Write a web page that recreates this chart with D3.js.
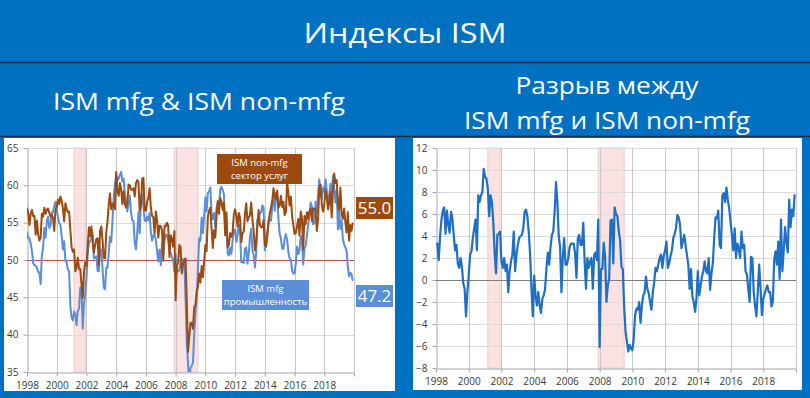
<!DOCTYPE html>
<html>
<head>
<meta charset="utf-8">
<title>Индексы ISM</title>
<script src="https://d3js.org/d3.v7.min.js"></script>
<style>
  body { margin: 0; background: #0070c0; }
  svg { display: block; }
  text { font-family: "Open Sans", "DejaVu Sans", sans-serif; }
</style>
</head>
<body>
<svg id="chart"></svg>
<script>
const W = 810, H = 398;

// monthly data, Jan 1998 .. Dec 2019
const startYear = 1998;

// ISM manufacturing PMI
const mfg = [
  53.8, 52.9, 52.9, 52.2, 51.2, 49.6, 49.3, 49.2, 49.0, 48.4, 48.3, 46.8,
  50.6, 51.7, 54.3, 53.0, 55.2, 55.8, 54.3, 54.6, 56.4, 56.4, 57.2, 57.8,
  56.7, 55.8, 54.9, 54.7, 53.2, 51.4, 52.5, 49.9, 49.7, 48.7, 48.5, 43.9,
  42.3, 41.9, 43.1, 42.7, 41.3, 43.2, 43.5, 46.3, 46.2, 40.8, 44.1, 45.3,
  47.5, 50.7, 52.4, 52.4, 53.1, 53.6, 50.2, 50.3, 50.5, 48.5, 48.5, 51.6,
  51.3, 48.8, 46.3, 46.1, 49.0, 49.0, 51.0, 53.1, 52.4, 55.2, 58.4, 60.1,
  61.4, 60.6, 60.9, 61.4, 61.8, 60.5, 60.9, 58.9, 57.8, 56.5, 57.6, 58.6,
  56.4, 55.3, 55.2, 52.3, 51.4, 53.6, 56.4, 53.6, 58.3, 58.8, 57.2, 55.3,
  55.2, 55.8, 55.3, 56.3, 53.7, 52.6, 53.3, 53.4, 52.7, 51.2, 49.8, 51.4,
  49.3, 52.3, 50.7, 52.6, 53.4, 53.3, 52.6, 51.2, 51.0, 50.4, 50.0, 48.4,
  50.7, 48.3, 48.6, 48.6, 49.6, 50.2, 50.0, 49.9, 44.8, 38.9, 36.2, 33.1,
  35.6, 35.8, 36.3, 40.1, 42.8, 44.8, 48.9, 52.9, 52.6, 55.7, 53.6, 55.9,
  58.4, 56.5, 59.0, 59.2, 59.7, 56.2, 55.5, 56.3, 54.4, 56.9, 57.6, 57.0,
  59.5, 59.8, 59.4, 58.8, 53.5, 55.3, 50.9, 50.6, 51.6, 50.8, 52.7, 53.9,
  54.1, 52.4, 53.4, 54.8, 53.5, 49.7, 49.8, 49.6, 51.5, 51.7, 49.5, 50.7,
  53.1, 54.2, 51.3, 50.7, 49.0, 50.9, 55.4, 55.7, 56.2, 56.4, 57.3, 57.0,
  51.3, 53.2, 53.7, 54.9, 55.4, 55.3, 57.1, 59.0, 56.6, 59.0, 58.7, 55.5,
  53.5, 52.9, 51.5, 51.5, 52.8, 53.5, 52.7, 51.1, 50.2, 50.1, 48.6, 48.2,
  48.2, 49.5, 51.8, 50.8, 51.3, 53.2, 52.6, 49.4, 51.5, 51.9, 53.2, 54.7,
  56.0, 57.7, 57.2, 54.8, 54.9, 57.8, 56.3, 58.8, 60.8, 58.7, 58.2, 59.7,
  59.1, 60.8, 59.3, 57.3, 58.7, 60.2, 58.1, 61.3, 59.8, 57.7, 59.3, 54.1,
  56.6, 54.2, 55.3, 52.8, 52.1, 51.7, 51.2, 49.1, 47.8, 48.3, 48.1, 47.2
];

// ISM non-manufacturing
const nonMfg = [
  57.0, 56.2, 54.7, 56.2, 56.7, 55.9, 55.9, 53.4, 55.3, 53.4, 52.6, 53.0,
  56.2, 55.8, 57.0, 56.2, 56.7, 56.9, 56.3, 55.8, 56.1, 55.6, 53.9, 56.7,
  57.1, 58.1, 57.5, 58.5, 57.9, 56.9, 55.2, 57.6, 56.8, 56.4, 56.5, 54.0,
  51.7, 51.1, 51.4, 48.5, 49.0, 50.3, 48.8, 48.8, 46.8, 44.9, 48.3, 49.7,
  49.2, 51.8, 54.4, 53.2, 54.5, 52.5, 51.0, 52.0, 52.8, 52.9, 49.3, 53.9,
  54.5, 52.6, 50.3, 50.2, 53.7, 55.2, 57.4, 58.9, 56.8, 57.5, 57.6, 56.8,
  61.8, 59.2, 58.6, 60.3, 59.5, 57.5, 59.2, 57.5, 57.0, 57.6, 60.1, 60.0,
  59.4, 59.4, 59.6, 58.5, 60.3, 60.7, 60.4, 56.6, 57.2, 60.9, 61.0, 56.7,
  56.6, 57.8, 58.3, 59.6, 57.0, 55.9, 55.7, 53.6, 56.5, 55.3, 53.0, 54.6,
  54.5, 54.0, 49.9, 54.6, 54.5, 55.0, 54.6, 50.4, 53.3, 52.9, 51.8, 53.9,
  44.6, 49.3, 49.6, 52.0, 51.7, 48.2, 49.5, 50.0, 50.2, 44.4, 37.7, 39.7,
  41.6, 41.6, 40.8, 43.7, 44.0, 45.8, 46.4, 48.2, 47.0, 49.2, 47.7, 49.7,
  52.0, 51.2, 55.8, 56.6, 57.0, 54.2, 51.6, 54.0, 53.0, 55.8, 57.9, 56.2,
  58.3, 57.8, 56.7, 57.7, 53.3, 56.4, 51.7, 52.0, 53.6, 53.1, 53.8, 56.1,
  56.8, 55.9, 54.5, 56.3, 55.7, 52.4, 53.6, 53.8, 56.2, 57.6, 55.2, 55.7,
  56.0, 57.7, 55.4, 53.9, 51.3, 52.3, 54.6, 56.7, 54.7, 54.4, 54.4, 55.3,
  52.1, 51.8, 53.1, 55.2, 56.2, 57.0, 57.9, 59.6, 58.6, 58.1, 59.3, 57.0,
  57.3, 58.6, 57.1, 57.8, 56.0, 56.4, 60.4, 59.0, 57.3, 58.5, 55.9, 54.7,
  53.5, 53.6, 54.5, 55.5, 53.3, 56.5, 55.5, 51.4, 55.9, 54.8, 56.4, 55.5,
  56.5, 56.9, 55.2, 56.9, 56.9, 56.7, 53.9, 55.5, 59.8, 60.1, 57.4, 56.5,
  57.4, 59.5, 58.5, 56.8, 57.6, 59.1, 55.7, 59.3, 61.6, 60.3, 60.7, 57.6,
  56.7, 59.7, 56.1, 55.5, 56.9, 55.1, 53.7, 56.4, 52.6, 54.7, 53.9, 55.0
];

// gap: non-mfg minus mfg
const gap = [
  3.2, 3.3, 1.8, 4.0, 5.5, 6.3, 6.6, 4.2, 6.3, 5.0, 4.3, 6.2,
  5.6, 4.1, 2.7, 3.2, 1.5, 1.1, 2.0, 1.2, -0.3, -0.8, -3.3, -1.1,
  0.4, 2.3, 2.6, 3.8, 4.7, 5.5, 2.7, 7.7, 7.1, 7.7, 8.0, 10.1,
  9.4, 9.2, 8.3, 5.8, 7.7, 7.1, 5.3, 2.5, 0.6, 4.1, 4.2, 4.4,
  1.7, 1.1, 2.0, 0.8, 1.4, -1.1, 0.8, 1.7, 2.3, 4.4, 0.8, 2.3,
  3.2, 3.8, 4.0, 4.1, 4.7, 6.2, 6.4, 5.8, 4.4, 2.3, -0.8, -3.3,
  0.4, -1.4, -2.3, -1.1, -2.3, -3.0, -1.7, -1.4, -0.8, 1.1, 2.5, 1.4,
  3.0, 4.1, 4.4, 6.2, 8.9, 7.1, 4.0, 3.0, -1.1, 2.1, 3.8, 1.4,
  1.4, 2.0, 3.0, 3.3, 3.3, 3.3, 2.4, 0.2, 3.8, 4.1, 3.2, 3.2,
  5.2, 1.7, -0.8, 2.0, 1.1, 1.7, 2.0, -0.8, 2.3, 2.5, 1.8, 5.5,
  -6.1, 1.0, 1.0, 3.4, 2.1, -2.0, -0.5, 0.1, 5.4, 5.5, 1.5, 6.6,
  6.0, 5.8, 4.5, 3.6, 1.2, 1.0, -2.5, -4.7, -5.6, -6.5, -5.9, -6.2,
  -6.4, -5.3, -3.2, -2.6, -2.7, -2.0, -3.9, -2.3, -1.4, -1.1, 0.3, -0.8,
  -1.2, -2.0, -2.7, -1.1, -0.2, 1.1, 0.8, 1.4, 2.0, 2.3, 1.1, 2.2,
  2.7, 3.5, 1.1, 1.5, 2.2, 2.7, 3.8, 4.2, 4.7, 5.9, 5.7, 5.0,
  2.9, 3.5, 4.1, 3.2, 2.3, 1.4, -0.8, 1.0, -1.5, -2.0, -2.9, -1.7,
  0.8, -1.4, -0.6, 0.3, 0.8, 1.7, 0.8, 0.6, 2.0, -0.9, 0.6, 1.5,
  3.8, 5.7, 5.6, 6.3, 3.2, 2.9, 7.7, 7.9, 7.1, 8.4, 7.3, 6.5,
  5.3, 4.1, 2.7, 4.7, 2.0, 3.3, 2.9, 2.0, 4.4, 2.9, 3.2, 0.8,
  0.5, -0.8, -2.0, 2.1, 2.0, -1.1, -2.4, -3.3, -1.0, 1.4, -0.8, -3.2,
  -1.7, -1.3, -0.8, -0.5, -1.1, -1.1, -2.4, -2.0, 1.8, 2.6, 1.4, 3.5,
  0.1, 5.5, 0.8, 2.7, 4.8, 3.4, 2.5, 7.3, 4.8, 6.4, 5.8, 7.8
];

const yearTicks = [1998, 2000, 2002, 2004, 2006, 2008, 2010, 2012, 2014, 2016, 2018, 2020];
const leftTicks = [35, 40, 45, 50, 55, 60, 65];
const rightTicks = [-8, -6, -4, -2, 0, 2, 4, 6, 8, 10, 12];
const recessionStart = ["2001-03", "2007-12"];
const recessionEnd = ["2001-11", "2009-06"];
const lastNonMfg = "55.0", lastMfg = "47.2";

const brown = "#9c4a10", lightBlue = "#5a8ed6", gapBlue = "#1f6fc4";

function toYear(s) {
  const p = s.split("-").map(Number);
  return p[0] + (p[1] - 1) / 12;
}

const svg = d3.select("#chart").attr("width", W).attr("height", H);
svg.append("rect").attr("width", W).attr("height", H).attr("fill", "#0070c0");

// header
svg.append("line").attr("x1", 0).attr("x2", W).attr("y1", 62.5).attr("y2", 62.5)
  .attr("stroke", "#1b2d52").attr("stroke-width", 1.5);
svg.append("line").attr("x1", 0).attr("x2", W).attr("y1", 136.5).attr("y2", 136.5)
  .attr("stroke", "#1b2d52").attr("stroke-width", 1.5);

function title(x, y, size, len, str) {
  svg.append("text").attr("x", x).attr("y", y).attr("text-anchor", "middle")
    .attr("fill", "#fff").style("font-size", size + "px")
    .attr("textLength", len).attr("lengthAdjust", "spacingAndGlyphs")
    .text(str);
}
title(405, 43, 28, 203, "Индексы ISM");
title(199, 110, 24, 292, "ISM mfg & ISM non-mfg");
title(607, 94, 24, 183, "Разрыв между");
title(607, 129, 24, 286, "ISM mfg и ISM non-mfg");

// white panels
svg.append("rect").attr("x", 4).attr("y", 138).attr("width", 391).attr("height", 253).attr("fill", "#fff");
svg.append("rect").attr("x", 413).attr("y", 138).attr("width", 389).attr("height", 252).attr("fill", "#fff");

function drawFrame(cfg) {
  const g = svg.append("g");
  const x = d3.scaleLinear().domain([1998, 2020]).range([cfg.left, cfg.right]);
  const y = d3.scaleLinear().domain([cfg.ticks[0], cfg.ticks[cfg.ticks.length - 1]]).range([cfg.bottom, cfg.top]);

  g.selectAll(".rec").data(recessionStart).join("rect")
    .attr("x", (d, i) => x(toYear(d)))
    .attr("width", (d, i) => x(toYear(recessionEnd[i]) + 1 / 12) - x(toYear(d)))
    .attr("y", cfg.top).attr("height", cfg.bottom - cfg.top)
    .attr("fill", "#fbe2e2").attr("stroke", "#f2c9c9");

  g.selectAll(".hg").data(cfg.ticks.slice(1)).join("line")
    .attr("x1", cfg.left).attr("x2", cfg.right)
    .attr("y1", d => Math.round(y(d)) + 0.5).attr("y2", d => Math.round(y(d)) + 0.5)
    .attr("stroke", "#dcdcdc");

  g.selectAll(".vg").data(yearTicks.slice(1)).join("line")
    .attr("x1", d => Math.round(x(d)) + 0.5).attr("x2", d => Math.round(x(d)) + 0.5)
    .attr("y1", cfg.top).attr("y2", cfg.bottom)
    .attr("stroke", "#c8c8c8");

  const ax = g.append("g").attr("transform", `translate(0,${Math.round(cfg.bottom) + 0.5})`)
    .call(d3.axisBottom(x).tickValues(yearTicks).tickSize(4).tickSizeOuter(0).tickPadding(5)
      .tickFormat(d => d === 2020 ? "" : d));
  const ay = g.append("g").attr("transform", `translate(${Math.round(cfg.left) + 0.5},0)`)
    .call(d3.axisLeft(y).tickValues(cfg.ticks).tickSize(4).tickSizeOuter(0).tickPadding(5));
  [ax, ay].forEach(a => {
    a.select(".domain").attr("stroke", "#a6a6a6");
    a.selectAll(".tick line").attr("stroke", "#a6a6a6");
    a.selectAll("text").attr("fill", "#3a3a3a").style("font-size", "10px")
      .style("font-family", "'Open Sans', sans-serif");
  });

  g.append("clipPath").attr("id", cfg.id)
    .append("rect").attr("x", cfg.left).attr("y", cfg.top - 2)
    .attr("width", cfg.right - cfg.left).attr("height", cfg.bottom - cfg.top + 2);

  return { g, x, y };
}

function drawLine(f, values, color, width, clipId) {
  const line = d3.line()
    .x((d, i) => f.x(startYear + i / 12))
    .y(d => f.y(d));
  f.g.append("path").datum(values)
    .attr("d", line).attr("fill", "none")
    .attr("stroke", color).attr("stroke-width", width)
    .attr("stroke-linejoin", "round")
    .attr("clip-path", `url(#${clipId})`);
}

function labelBox(x, y, w, h, fill, lines, size) {
  svg.append("rect").attr("x", x).attr("y", y).attr("width", w).attr("height", h).attr("fill", fill);
  const n = lines.length;
  lines.forEach((s, i) => {
    svg.append("text").attr("x", x + w / 2)
      .attr("y", y + h / 2 + (i - (n - 1) / 2) * size * 1.35)
      .attr("dy", "0.35em").attr("text-anchor", "middle")
      .attr("fill", "#fff").style("font-size", size + "px").text(s);
  });
}

// left chart
const left = drawFrame({ id: "clipL", left: 27, right: 354, top: 148, bottom: 372, ticks: leftTicks });
left.g.append("line")
  .attr("x1", 27).attr("x2", 354)
  .attr("y1", Math.round(left.y(50)) + 0.5).attr("y2", Math.round(left.y(50)) + 0.5)
  .attr("stroke", "#c0504d").attr("stroke-width", 1);
drawLine(left, mfg, lightBlue, 2, "clipL");
drawLine(left, nonMfg, brown, 2, "clipL");

labelBox(217, 154, 85, 30, brown, ["ISM non-mfg", "сектор услуг"], 9.5);
labelBox(222, 280, 87, 30, lightBlue, ["ISM mfg", "промышленность"], 9.5);
labelBox(356, 197, 37, 22, brown, [lastNonMfg], 17);
labelBox(356, 285, 37, 22, lightBlue, [lastMfg], 17);

// right chart
const right = drawFrame({ id: "clipR", left: 436, right: 796, top: 148, bottom: 368, ticks: rightTicks });
right.g.append("line")
  .attr("x1", 436).attr("x2", 796)
  .attr("y1", Math.round(right.y(0)) + 0.5).attr("y2", Math.round(right.y(0)) + 0.5)
  .attr("stroke", "#7f7f7f").attr("stroke-width", 1);
drawLine(right, gap, gapBlue, 2.2, "clipR");
</script>
</body>
</html>
